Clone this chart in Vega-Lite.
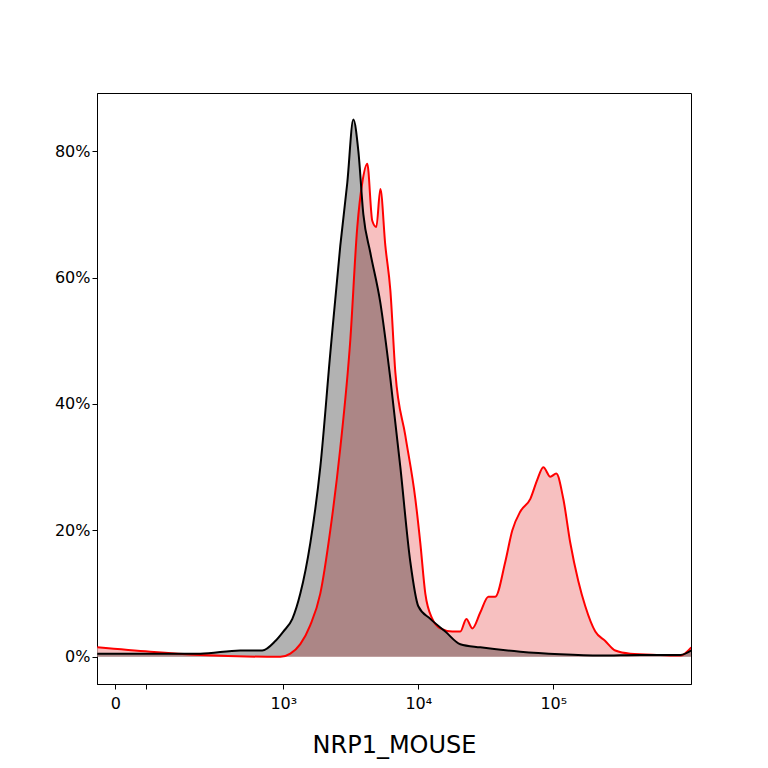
{
  "$schema": "https://vega.github.io/schema/vega-lite/v6.json",
  "width": 594,
  "height": 591,
  "autosize": "none",
  "padding": {"left": 97, "top": 93, "right": 77, "bottom": 84},
  "background": "white",
  "datasets": {
    "ctrl": [
      {"u": 1.622, "p": 0.5}, {"u": 2.015, "p": 0.5}, {"u": 2.385, "p": 0.5}, {"u": 2.681, "p": 1.0},
      {"u": 2.844, "p": 1.0}, {"u": 2.941, "p": 2.5}, {"u": 3.0, "p": 4}, {"u": 3.067, "p": 6},
      {"u": 3.126, "p": 10}, {"u": 3.2, "p": 18}, {"u": 3.274, "p": 30}, {"u": 3.348, "p": 48},
      {"u": 3.422, "p": 65}, {"u": 3.474, "p": 75}, {"u": 3.519, "p": 85}, {"u": 3.556, "p": 80},
      {"u": 3.593, "p": 70}, {"u": 3.644, "p": 64}, {"u": 3.719, "p": 56}, {"u": 3.793, "p": 44},
      {"u": 3.867, "p": 30}, {"u": 3.941, "p": 15}, {"u": 4.0, "p": 8}, {"u": 4.089, "p": 6},
      {"u": 4.2, "p": 4}, {"u": 4.311, "p": 2}, {"u": 4.459, "p": 1.5}, {"u": 4.756, "p": 0.8},
      {"u": 5.052, "p": 0.4}, {"u": 5.348, "p": 0.2}, {"u": 5.644, "p": 0.3}, {"u": 5.941, "p": 0.3},
      {"u": 6.022, "p": 1}
    ],
    "sample": [
      {"u": 1.622, "p": 1.5}, {"u": 2.015, "p": 0.8}, {"u": 2.385, "p": 0.3}, {"u": 2.978, "p": 0},
      {"u": 3.052, "p": 0.5}, {"u": 3.126, "p": 2}, {"u": 3.2, "p": 5}, {"u": 3.274, "p": 10},
      {"u": 3.348, "p": 20}, {"u": 3.422, "p": 33}, {"u": 3.496, "p": 50}, {"u": 3.548, "p": 68},
      {"u": 3.585, "p": 75}, {"u": 3.622, "p": 78}, {"u": 3.659, "p": 69}, {"u": 3.689, "p": 68},
      {"u": 3.719, "p": 74}, {"u": 3.756, "p": 65}, {"u": 3.793, "p": 58}, {"u": 3.830, "p": 45},
      {"u": 3.904, "p": 35}, {"u": 3.978, "p": 25}, {"u": 4.015, "p": 18}, {"u": 4.052, "p": 10},
      {"u": 4.104, "p": 6}, {"u": 4.163, "p": 4.5}, {"u": 4.252, "p": 4}, {"u": 4.311, "p": 4},
      {"u": 4.356, "p": 6}, {"u": 4.4, "p": 4.5}, {"u": 4.459, "p": 7}, {"u": 4.519, "p": 9.5},
      {"u": 4.570, "p": 9.5}, {"u": 4.644, "p": 15}, {"u": 4.696, "p": 20}, {"u": 4.756, "p": 23},
      {"u": 4.830, "p": 25}, {"u": 4.881, "p": 28}, {"u": 4.926, "p": 30}, {"u": 4.978, "p": 28.5},
      {"u": 5.022, "p": 29}, {"u": 5.074, "p": 25}, {"u": 5.126, "p": 18}, {"u": 5.185, "p": 12},
      {"u": 5.237, "p": 8}, {"u": 5.311, "p": 4}, {"u": 5.385, "p": 2.5}, {"u": 5.459, "p": 1},
      {"u": 5.570, "p": 0.5}, {"u": 5.793, "p": 0.3}, {"u": 5.941, "p": 0.2}, {"u": 6.022, "p": 1.5}
    ]
  },
  "encoding": {
    "x": {
      "field": "u", "type": "quantitative",
      "scale": {"domain": [1.62, 6.02], "nice": false, "zero": false},
      "axis": {
        "values": [1.756, 1.985, 3, 4, 5],
        "labelExpr": "datum.value < 1.8 ? '0' : datum.value < 2.5 ? '' : datum.value < 3.5 ? '10³' : datum.value < 4.5 ? '10⁴' : '10⁵'",
        "title": "NRP1_MOUSE", "titleFontSize": 24, "titleFontWeight": "normal", "titlePadding": 22,
        "labelFontSize": 16, "labelPadding": 6, "grid": false, "domainColor": "black", "tickColor": "black", "labelColor": "black"
      }
    },
    "y": {
      "field": "p", "type": "quantitative",
      "scale": {"domain": [-4.3, 89.2], "nice": false, "zero": false},
      "axis": {
        "values": [0, 20, 40, 60, 80], "labelExpr": "datum.value + '%'", "title": null,
        "labelFontSize": 16, "grid": false, "domainColor": "black", "tickColor": "black", "labelColor": "black"
      }
    }
  },
  "layer": [
    {"data": {"name": "sample"}, "mark": {"type": "area", "interpolate": "monotone", "color": "#f7c0c0", "y2": {"expr": "scale('y', 0)"}, "clip": true}},
    {"data": {"name": "ctrl"}, "mark": {"type": "area", "interpolate": "monotone", "color": "black", "opacity": 0.3, "clip": true}},
    {"data": {"name": "sample"}, "mark": {"type": "line", "interpolate": "monotone", "color": "red", "strokeWidth": 2, "clip": true}},
    {"data": {"name": "ctrl"}, "mark": {"type": "line", "interpolate": "monotone", "color": "black", "strokeWidth": 2, "clip": true}}
  ],
  "config": {
    "font": "DejaVu Sans",
    "view": {"stroke": "black", "strokeWidth": 1}
  }
}
